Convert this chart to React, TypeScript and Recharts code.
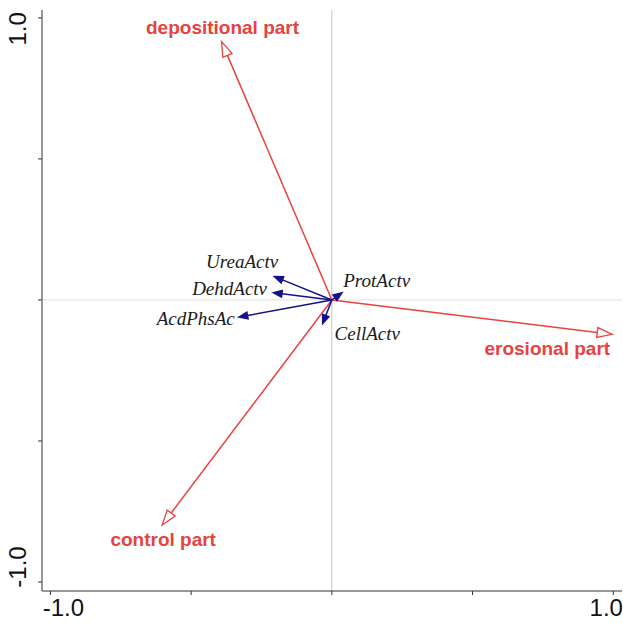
import React from "react";
import { ComposedChart, XAxis, YAxis, ReferenceLine, Scatter } from "recharts";

// environmental vectors (red, open heads)
const envNames = ["depositional part", "erosional part", "control part"];
const envX = [-0.392, 0.996, -0.603];
const envY = [0.916, -0.122, -0.798];

// enzyme activity vectors (navy, filled heads)
const enzNames = ["UreaActv", "DehdActv", "AcdPhsAc", "ProtActv", "CellActv"];
const enzX = [-0.205, -0.209, -0.331, 0.037, -0.033];
const enzY = [0.083, 0.026, -0.061, 0.026, -0.085];

const axisTicks = [-1, -0.5, 0, 0.5, 1];
const tickLabels: Record<string, string> = { "-1": "-1.0", "1": "1.0" };

// label placement relative to the arrow tip: [dx, dy, anchor]
const envLabelPos: [number, number, string][] = [
  [1, -14, "middle"],
  [-2, 14, "end"],
  [1, 14, "middle"],
];
const enzLabelPos: [number, number, string][] = [
  [4, -15, "end"],
  [-6, -4, "end"],
  [-4, 1, "end"],
  [1, -12, "start"],
  [12, 10, "start"],
];

const RED = "#e8423f";
const NAVY = "#12128a";

type ArrowStyle = {
  color: string;
  filled: boolean;
  len: number;
  half: number;
  label: string;
  pos: [number, number, string];
  font: React.CSSProperties;
  textColor: string;
};

function arrowShape(st: ArrowStyle) {
  return (p: any) => {
    const { x1, y1, x2, y2 } = p;
    const a = Math.atan2(y2 - y1, x2 - x1);
    const c = Math.cos(a);
    const s = Math.sin(a);
    const bx = x2 - st.len * c;
    const by = y2 - st.len * s;
    const pts = [
      `${x2},${y2}`,
      `${bx + st.half * s},${by - st.half * c}`,
      `${bx - st.half * s},${by + st.half * c}`,
    ].join(" ");
    return (
      <g>
        <line x1={x1} y1={y1} x2={bx} y2={by} stroke={st.color} strokeWidth={1.5} />
        <polygon
          points={pts}
          fill={st.filled ? st.color : "#fff"}
          stroke={st.color}
          strokeWidth={1.3}
          strokeLinejoin="miter"
        />
        <text
          x={x2 + st.pos[0]}
          y={y2 + st.pos[1]}
          textAnchor={st.pos[2] as any}
          dominantBaseline="central"
          fill={st.textColor}
          style={st.font}
        >
          {st.label}
        </text>
      </g>
    );
  };
}

const tipData = [
  ...envNames.map((n, i) => ({ name: n, x: envX[i], y: envY[i] })),
  ...enzNames.map((n, i) => ({ name: n, x: enzX[i], y: enzY[i] })),
];

const XTick = (p: any) => {
  const v = p.payload.value;
  const txt = tickLabels[String(v)];
  if (!txt) return null;
  const shift = v < 0 ? 13 : -7;
  return (
    <text x={p.x + shift} y={607} textAnchor="middle" dominantBaseline="central"
      fill="#111" style={{ fontFamily: "Liberation Sans, Arial, sans-serif", fontSize: 24 }}>
      {txt}
    </text>
  );
};

const YTick = (p: any) => {
  const v = p.payload.value;
  const txt = tickLabels[String(v)];
  if (!txt) return null;
  const shift = v > 0 ? 11 : -15;
  const cx = 18;
  const cy = p.y + shift;
  return (
    <text x={cx} y={cy} textAnchor="middle" dominantBaseline="central"
      transform={`rotate(-90 ${cx} ${cy})`}
      fill="#111" style={{ fontFamily: "Liberation Sans, Arial, sans-serif", fontSize: 24 }}>
      {txt}
    </text>
  );
};

export default function App() {
  const redFont: React.CSSProperties = {
    fontFamily: "Liberation Sans, Arial, sans-serif",
    fontWeight: 700,
    fontSize: 19,
  };
  const blueFont: React.CSSProperties = {
    fontFamily: "Liberation Serif, Times New Roman, serif",
    fontStyle: "italic",
    fontSize: 19,
  };
  return (
    <div style={{ position: "absolute", left: 0, top: 0, width: 623, height: 623, background: "#fff" }}>
      <ComposedChart width={623} height={623} margin={{ top: 10, right: 1, bottom: 0, left: 0 }}>
        <XAxis
          type="number"
          dataKey="x"
          domain={[-1.03, 1.031]}
          ticks={axisTicks}
          interval={0}
          allowDataOverflow
          height={32}
          tickSize={4}
          stroke="#333"
          tick={<XTick />}
        />
        <YAxis
          type="number"
          dataKey="y"
          domain={[-1.032, 1.028]}
          ticks={axisTicks}
          interval={0}
          allowDataOverflow
          width={42}
          tickSize={4}
          stroke="#333"
          tick={<YTick />}
        />
        <XAxis xAxisId="top" orientation="top" type="number" domain={[-1.03, 1.031]} height={0} tick={false} tickLine={false} stroke="#888" />
        <YAxis yAxisId="right" orientation="right" type="number" domain={[-1.032, 1.028]} width={0} tick={false} tickLine={false} stroke="#888" />
        <ReferenceLine x={0} stroke="#c4c4c4" strokeWidth={1} />
        <ReferenceLine y={0} stroke="#e0e0e0" strokeWidth={1} />
        <Scatter data={tipData} isAnimationActive={false} shape={() => <g />} />
        {envNames.map((n, i) => (
          <ReferenceLine
            key={n}
            segment={[{ x: 0, y: 0 }, { x: envX[i], y: envY[i] }]}
            shape={arrowShape({
              color: RED, filled: false, len: 15, half: 5, label: n,
              pos: envLabelPos[i], font: redFont, textColor: RED,
            })}
          />
        ))}
        {enzNames.map((n, i) => (
          <ReferenceLine
            key={n}
            segment={[{ x: 0, y: 0 }, { x: enzX[i], y: enzY[i] }]}
            shape={arrowShape({
              color: NAVY, filled: true, len: 9, half: 3.5, label: n,
              pos: enzLabelPos[i], font: blueFont, textColor: "#1a1a1a",
            })}
          />
        ))}
      </ComposedChart>
    </div>
  );
}
